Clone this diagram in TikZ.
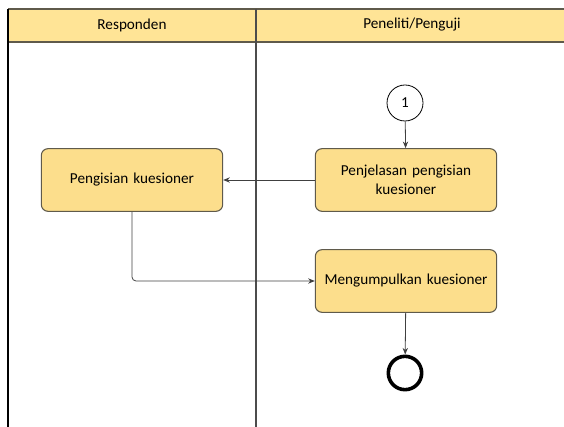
\documentclass[tikz,border=0pt]{standalone}
\usepackage{fontspec}
\setmainfont{Carlito}
\usetikzlibrary{arrows.meta}
\definecolor{lanefill}{RGB}{255,228,150}
\definecolor{boxfill}{RGB}{252,222,140}
\definecolor{boxline}{RGB}{95,90,75}
\begin{document}
\begin{tikzpicture}
  [x=0.75pt,y=-0.75pt,font=\fontsize{11.4}{14}\selectfont,
   act/.style={draw=boxline,fill=boxfill,rounded corners=5pt,line width=0.8pt,
     minimum width=136pt,minimum height=47pt,align=center,text width=125pt},
   flow/.style={draw=black!75,line width=0.6pt,-{Stealth[length=5pt,width=4pt]}}]
  \useasboundingbox (0,0) rectangle (564,427);

  % lanes
  \fill[lanefill] (8,9) rectangle (566,42);
  \draw[boxline,line width=1pt] (8,9) -- (566,9) (8,42) -- (566,42);
  \draw[black,line width=0.9pt] (8,9) -- (8,428);
  \draw[black!70,line width=0.9pt] (256,9) -- (256,428);
  \node (l1) at (132,25) {Responden};
  \node (l2) at (412,25) {Peneliti/Penguji};

  % activities
  \node (c1)[circle,draw,fill=white,line width=0.6pt,minimum size=27pt,inner sep=0pt] at (405,103) {1};
  \node (a1)[act] at (406,180) {Penjelasan pengisian\\kuesioner};
  \node (a2)[act] at (132,180) {Pengisian kuesioner};
  \node (a3)[act] at (406,281) {Mengumpulkan kuesioner};
  \node (e1)[circle,draw,line width=2.7pt,minimum size=25pt,inner sep=0pt] at (405,373) {};

  \foreach \from/\to in {c1/a1,a1/a2,a3/e1}
    \draw[flow] (\from) -- (\to);
  \draw[flow,rounded corners=3pt] (a2.south) |- (a3.west);

\end{tikzpicture}
\end{document}
